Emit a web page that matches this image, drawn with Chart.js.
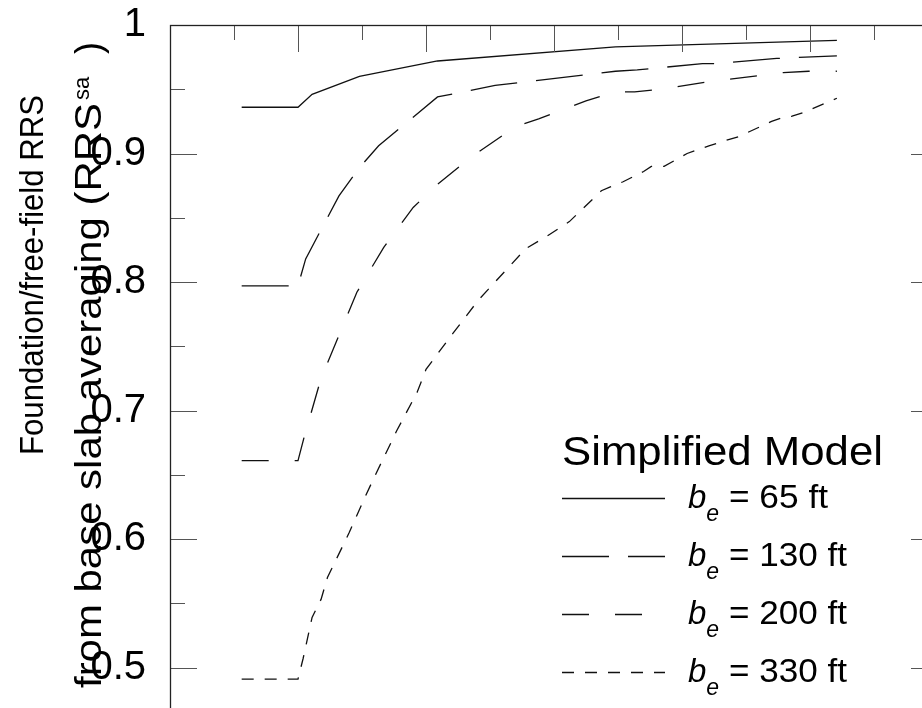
<!DOCTYPE html>
<html>
<head>
<meta charset="utf-8">
<script src="https://cdn.jsdelivr.net/npm/chart.js@4.4.1/dist/chart.umd.min.js"></script>
<style>
  html, body { margin: 0; padding: 0; background: #fff; overflow: hidden; }
  canvas { display: block; }
</style>
</head>
<body>
<canvas id="rrs" width="1000" height="900"></canvas>
<script>
// RRS reduction from base slab averaging, simplified model, four effective widths
const FONT = "'Liberation Sans', Arial, sans-serif";

const x65  = [0.056, 0.100, 0.111, 0.148, 0.209, 0.348, 0.521];
const y65  = [0.936, 0.936, 0.946, 0.960, 0.972, 0.983, 0.988];

const x130 = [0.056, 0.100, 0.106, 0.132, 0.148, 0.163, 0.209, 0.254, 0.348, 0.365, 0.416, 0.428, 0.474, 0.521];
const y130 = [0.797, 0.797, 0.818, 0.867, 0.889, 0.906, 0.944, 0.953, 0.964, 0.965, 0.970, 0.970, 0.974, 0.976];

const x200 = [0.056, 0.100, 0.105, 0.118, 0.146, 0.167, 0.190, 0.209, 0.235, 0.251,
              0.270, 0.288, 0.325, 0.348, 0.363, 0.383, 0.422, 0.479, 0.499, 0.521];
const y200 = [0.661, 0.661, 0.680, 0.725, 0.792, 0.827, 0.858, 0.876, 0.897, 0.908,
              0.921, 0.927, 0.941, 0.948, 0.948, 0.950, 0.956, 0.963, 0.964, 0.964];

const x330 = [0.056, 0.100, 0.104, 0.111, 0.118, 0.123, 0.140, 0.153, 0.161, 0.177,
              0.193, 0.200, 0.209, 0.221, 0.241, 0.278, 0.295, 0.312, 0.337, 0.344,
              0.354, 0.370, 0.376, 0.386, 0.404, 0.421, 0.437, 0.444, 0.470, 0.479,
              0.486, 0.495, 0.521];
const y330 = [0.491, 0.491, 0.507, 0.539, 0.553, 0.570, 0.605, 0.634, 0.651, 0.684,
              0.714, 0.732, 0.744, 0.760, 0.786, 0.826, 0.836, 0.847, 0.871, 0.874,
              0.878, 0.886, 0.890, 0.890, 0.900, 0.906, 0.911, 0.913, 0.925, 0.928,
              0.929, 0.932, 0.943];

const widths = ['65', '130', '200', '330'];
const dashes = [[], [47, 19], [27, 26], [12, 11]];

const pts = (xs, ys) => xs.map((v, i) => ({ x: v, y: ys[i] }));
const seriesData = [pts(x65, y65), pts(x130, y130), pts(x200, y200), pts(x330, y330)];

const isMajor = v => Math.round(v * 20) % 2 === 0;

// draw text squeezed or stretched along the baseline to a given length
function fitText(ctx, text, x, y, len) {
  const w = ctx.measureText(text).width;
  ctx.save();
  ctx.translate(x, y);
  ctx.scale(len / w, 1);
  ctx.fillText(text, 0, 0);
  ctx.restore();
}

// box frame with inward ticks on all four sides
const frame = {
  id: 'frame',
  afterDraw(chart) {
    const { ctx, chartArea: a, scales: { x, y } } = chart;
    ctx.save();
    ctx.strokeStyle = '#555';
    ctx.lineWidth = 1;
    ctx.beginPath();
    y.ticks.forEach(t => {
      const py = Math.round(y.getPixelForValue(t.value)) + 0.5;
      const len = isMajor(t.value) ? 27 : 15;
      ctx.moveTo(a.left, py); ctx.lineTo(a.left + len, py);
      ctx.moveTo(a.right, py); ctx.lineTo(a.right - len, py);
    });
    x.ticks.forEach(t => {
      const px = Math.round(x.getPixelForValue(t.value)) + 0.5;
      const len = isMajor(t.value) ? 27 : 15;
      ctx.moveTo(px, a.top); ctx.lineTo(px, a.top + len);
      ctx.moveTo(px, a.bottom); ctx.lineTo(px, a.bottom - len);
    });
    ctx.stroke();
    ctx.strokeStyle = '#222';
    ctx.lineWidth = 1.3;
    ctx.strokeRect(a.left + 0.5, a.top + 0.5, a.right - a.left, a.bottom - a.top);
    ctx.restore();
  }
};

// two-line rotated y title with subscript
const yTitle = {
  id: 'yTitle',
  afterDraw(chart) {
    const ctx = chart.ctx;
    ctx.save();
    ctx.fillStyle = '#000';
    ctx.textBaseline = 'alphabetic';
    ctx.textAlign = 'left';

    ctx.save();
    ctx.translate(43, 455);
    ctx.rotate(-Math.PI / 2);
    ctx.font = '34px ' + FONT;
    fitText(ctx, 'Foundation/free-field RRS', 0, 0, 360);
    ctx.restore();

    ctx.save();
    ctx.translate(101, 688);
    ctx.rotate(-Math.PI / 2);
    ctx.font = '36px ' + FONT;
    fitText(ctx, 'from base slab averaging (RRS', 0, 0, 585);
    ctx.font = '22px ' + FONT;
    ctx.fillText('sa', 588, -12);
    ctx.font = '36px ' + FONT;
    ctx.fillText(')', 634, 0);
    ctx.restore();

    ctx.restore();
  }
};

// legend block in the lower right of the plot
const modelLegend = {
  id: 'modelLegend',
  afterDraw(chart) {
    const ctx = chart.ctx;
    const left = 562, sample = 103, rows = [498, 556, 614, 672];
    const textEnd = [828, 847, 847, 847];
    ctx.save();
    ctx.fillStyle = '#000';
    ctx.textAlign = 'left';
    ctx.textBaseline = 'alphabetic';
    ctx.font = '40px ' + FONT;
    fitText(ctx, 'Simplified Model', left, 465, 321);

    chart.data.datasets.forEach((ds, i) => {
      const yy = rows[i] + 0.5;
      ctx.strokeStyle = ds.borderColor;
      ctx.lineWidth = ds.borderWidth;
      ctx.setLineDash(ds.borderDash);
      ctx.beginPath();
      ctx.moveTo(left, yy);
      ctx.lineTo(left + sample, yy);
      ctx.stroke();
      ctx.setLineDash([]);

      let tx = 688;
      const base = rows[i] + 10;
      ctx.font = 'italic 33px ' + FONT;
      ctx.fillText('b', tx, base);
      tx += ctx.measureText('b').width;
      ctx.font = 'italic 23px ' + FONT;
      ctx.fillText('e', tx, base + 13);
      tx += ctx.measureText('e').width;
      ctx.font = '33px ' + FONT;
      fitText(ctx, ' = ' + widths[i] + ' ft', tx, base, textEnd[i] - tx);
    });
    ctx.restore();
  }
};

new Chart(document.getElementById('rrs'), {
  type: 'line',
  data: {
    datasets: widths.map((w, i) => ({
      label: 'be = ' + w + ' ft',
      data: seriesData[i],
      borderColor: '#111',
      borderWidth: 1.3,
      borderDash: dashes[i],
      pointRadius: 0,
      tension: 0,
      fill: false
    }))
  },
  options: {
    responsive: false,
    animation: false,
    layout: { padding: { top: 25, right: 62, bottom: 44, left: 0 } },
    plugins: {
      legend: { display: false },
      tooltip: { enabled: false }
    },
    scales: {
      x: {
        type: 'linear',
        min: 0,
        max: 0.6,
        grid: { display: false, drawTicks: false },
        border: { display: false },
        ticks: { display: false, stepSize: 0.05, autoSkip: false },
        afterFit: s => { s.height = 60; s.paddingLeft = 0; s.paddingRight = 0; }
      },
      y: {
        min: 0.4,
        max: 1.0,
        grid: { display: false, drawTicks: false },
        border: { display: false },
        ticks: {
          stepSize: 0.05,
          autoSkip: false,
          padding: 24,
          color: '#000',
          font: { size: 40, family: FONT },
          callback: v => isMajor(v) ? String(Math.round(v * 10) / 10) : ''
        },
        afterFit: s => { s.width = 170; s.paddingTop = 0; s.paddingBottom = 0; }
      }
    }
  },
  plugins: [frame, yTitle, modelLegend]
});
</script>
</body>
</html>
